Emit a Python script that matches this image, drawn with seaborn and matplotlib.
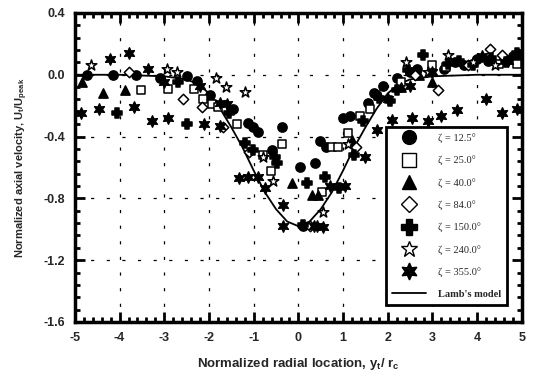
import numpy as np
import pandas as pd
import matplotlib
matplotlib.use("Agg")
import matplotlib.pyplot as plt
from matplotlib.ticker import MultipleLocator, FormatStrFormatter
from matplotlib.lines import Line2D
import seaborn as sns

# data: (y_t/r_c, U_t/U_peak)
zeta_labels = ["ζ = 12.5°", "ζ = 25.0°", "ζ = 40.0°", "ζ = 84.0°",
               "ζ = 150.0°", "ζ = 240.0°", "ζ = 355.0°"]

x_125 = [-4.73, -4.15, -3.64, -3.1, -2.5, -2.27, -1.98, -1.47, -1.13, -0.9, -1.02,
         -0.37, -0.6, 0.03, 0.37, 0.48, 0.62, 1.0, 1.15, 1.56, 1.9, 2.2, 2.5, 3.5, 4.0, 4.6, 0.1,
         3.25, 3.7, 4.25, 4.8, 2.65, 1.7]
y_125 = [0.0, 0.0, 0.0, -0.02, -0.01, -0.04, -0.13, -0.22, -0.31, -0.37, -0.34,
         -0.34, -0.49, -0.60, -0.57, -0.43, -0.47, -0.28, -0.27, -0.18, -0.07, -0.02, 0.02, 0.08, 0.10, 0.10, -0.98,
         0.04, 0.06, 0.09, 0.12, 0.04, -0.12]

x_250 = [-3.53, -2.92, -2.34, -2.14, -1.94, -1.8, -1.38, -0.79, -0.61, -0.37,
         0.52, 0.75, 0.88, 1.38, 1.6, 2.3, 3.0, 3.3, 4.5, 4.9, 1.12]
y_250 = [-0.10, -0.09, -0.09, -0.16, -0.19, -0.21, -0.32, -0.52, -0.62, -0.45,
         -0.76, -0.47, -0.47, -0.27, -0.22, -0.05, 0.06, 0.05, 0.07, 0.07, -0.38]

x_400 = [-4.84, -4.37, -3.88, -0.15, 0.30, 0.44, 2.99, 1.8, 2.3, 1.2, 2.7]
y_400 = [-0.05, -0.12, -0.10, -0.70, -0.78, -0.78, -0.05, -0.13, -0.08, -0.42, 0.0]

x_840 = [-3.79, -2.58, -2.16, -1.69, -1.1, 3.12, 4.28, 4.55, 2.6, 1.3, 0.25, 3.8]
y_840 = [0.02, -0.16, -0.21, -0.34, -0.50, -0.10, 0.17, 0.13, 0.0, -0.47, -0.98, 0.06]

x_1500 = [-4.06, -2.5, -1.2, -0.53, 0.1, 0.6, 0.9, 1.8, 2.78, 2.45, 3.9, 4.9,
          -1.55, -2.7, 1.25, 0.2, 1.45, 2.05, 3.6, 4.3, -0.48, -1.01, 3.35, 4.65, 2.2]
y_1500 = [-0.25, -0.32, -0.44, -0.53, -0.97, -0.66, -0.73, -0.15, 0.13, 0.03, 0.06, 0.14,
          -0.25, -0.05, -0.52, -0.70, -0.30, -0.17, 0.09, 0.11, -0.57, -0.49, 0.07, 0.08, -0.10]

x_2400 = [-4.63, -2.94, -2.72, -1.85, -1.62, -1.2, -0.57, 0.55, 2.4, 3.34, -0.8,
          1.1, 3.9, 4.4, 2.9]
y_2400 = [0.06, 0.04, 0.02, -0.02, -0.08, -0.11, -0.69, -0.89, 0.08, 0.13, -0.53,
          -0.45, 0.08, 0.06, 0.02]

x_3550 = [-4.87, -4.46, -3.68, -3.28, -2.92, -2.12, -1.76, -3.79, -3.37, -4.22,
          -1.33, -1.13, -0.9, -0.75, -0.35, -0.35, 0.55, 0.35, 0.42, 1.5, 1.75, 2.1,
          2.54, 2.9, 3.2, 3.55, 4.2, 4.55, 4.89, 2.5, 0.7, 1.05, -3.0, -2.2, -1.75,
          -1.6, 2.0, 3.0, 4.1, 4.7, 5.0]
y_3550 = [-0.25, -0.22, -0.21, -0.30, -0.28, -0.32, -0.33, 0.14, 0.04, 0.10,
          -0.67, -0.66, -0.66, -0.73, -0.84, -0.98, -0.985, -0.98, -0.98, -0.53, -0.36, -0.29,
          -0.28, -0.30, -0.27, -0.23, -0.16, -0.25, -0.22, -0.07, -0.72, -0.72, -0.05, -0.07, -0.18,
          -0.19, -0.16, 0.02, 0.12, 0.09, 0.12]

# Lamb's model curve
lamb_x = [-5, -4, -3.0, -2.75, -2.5, -2.25, -2.0, -1.75, -1.5, -1.25, -1.0, -0.75, -0.5, -0.25,
          0.0, 0.25, 0.5, 0.75, 1.0, 1.25, 1.5, 1.75, 2.0, 2.25, 2.5, 2.75, 3.0, 4, 5]
lamb_y = [0.0, 0.0, -0.01, -0.02, -0.03, -0.06, -0.12, -0.22, -0.34, -0.47, -0.62, -0.76, -0.87, -0.95,
          -0.98, -0.95, -0.87, -0.76, -0.62, -0.47, -0.34, -0.22, -0.12, -0.06, -0.03, -0.02, -0.01, 0.0, 0.0]

xs = [x_125, x_250, x_400, x_840, x_1500, x_2400, x_3550]
ys = [y_125, y_250, y_400, y_840, y_1500, y_2400, y_3550]
markers = ["o", "s", "^", "D", "P", "*", (6, 1, 0)]
filled = [True, False, True, False, True, False, True]
sizes = [44, 40, 44, 28, 60, 64, 66]

sns.set_style("ticks")
plt.rcParams["font.family"] = ["Liberation Sans", "DejaVu Sans"]
plt.rcParams["axes.unicode_minus"] = False
plt.rcParams["mathtext.fontset"] = "custom"
plt.rcParams["mathtext.bf"] = "Liberation Sans:bold"
plt.rcParams["mathtext.rm"] = "Liberation Sans:bold"
plt.rcParams["mathtext.default"] = "bf"

fig = plt.figure(figsize=(5.43, 3.77), dpi=100)
ax = fig.add_axes([0.138, 0.146, 0.823, 0.8196])

handles = []
for lab, x, y, m, f, s in zip(zeta_labels, xs, ys, markers, filled, sizes):
    df = pd.DataFrame({"x": x, "y": y})
    sns.scatterplot(data=df, x="x", y="y", ax=ax, marker=m, s=s,
                    color="black" if f else "white", edgecolor="black",
                    linewidth=1.1, zorder=3)
    handles.append(Line2D([], [], linestyle="none", marker=m, markersize=np.sqrt(s) * 1.5,
                          markerfacecolor="black" if f else "white",
                          markeredgecolor="black", markeredgewidth=1.0, label=lab))

lamb = pd.DataFrame({"x": lamb_x, "y": lamb_y})
sns.lineplot(data=lamb, x="x", y="y", ax=ax, color="black", linewidth=1.3, zorder=2)
handles.append(Line2D([], [], color="black", linewidth=1.3, label="Lamb's model"))

ax.set_xlim(-5, 5)
ax.set_ylim(-1.6, 0.4)
ax.xaxis.set_major_locator(MultipleLocator(1))
ax.xaxis.set_minor_locator(MultipleLocator(0.2))
ax.yaxis.set_major_locator(MultipleLocator(0.4))
ax.yaxis.set_minor_locator(MultipleLocator(0.08))
ax.yaxis.set_major_formatter(FormatStrFormatter("%.1f"))
ax.tick_params(which="both", direction="in", top=True, right=True, width=2, color="black")
ax.tick_params(which="major", length=7, labelsize=9, pad=7)
ax.tick_params(which="minor", length=3.5)
for t in ax.get_xticklabels() + ax.get_yticklabels():
    t.set_fontweight("bold")
for sp in ax.spines.values():
    sp.set_linewidth(2.5)
    sp.set_color("black")
ax.grid(True, which="major", color="black", linestyle=(0, (2.5, 10)), linewidth=0.9)

ax.set_xlabel("Normalized radial location, y$_t$/ r$_c$", fontsize=9.5,
              fontweight="bold", labelpad=9)
ax.set_ylabel("Normalized axial velocity, U$_t$/U$_{peak}$", fontsize=8,
              fontweight="bold", labelpad=10)

leg = ax.legend(handles=handles, loc="lower left", bbox_to_anchor=(0.696, 0.055),
                prop={"family": "Liberation Serif", "size": 7.5},
                frameon=True, fancybox=False, framealpha=1, edgecolor="black",
                handlelength=3.2, handletextpad=1.2, labelspacing=1.2,
                borderpad=0.6, borderaxespad=0)
leg.get_frame().set_linewidth(2)
leg.texts[-1].set_fontweight("bold")
leg.set_zorder(5)

fig.savefig("out.png", dpi=100)
